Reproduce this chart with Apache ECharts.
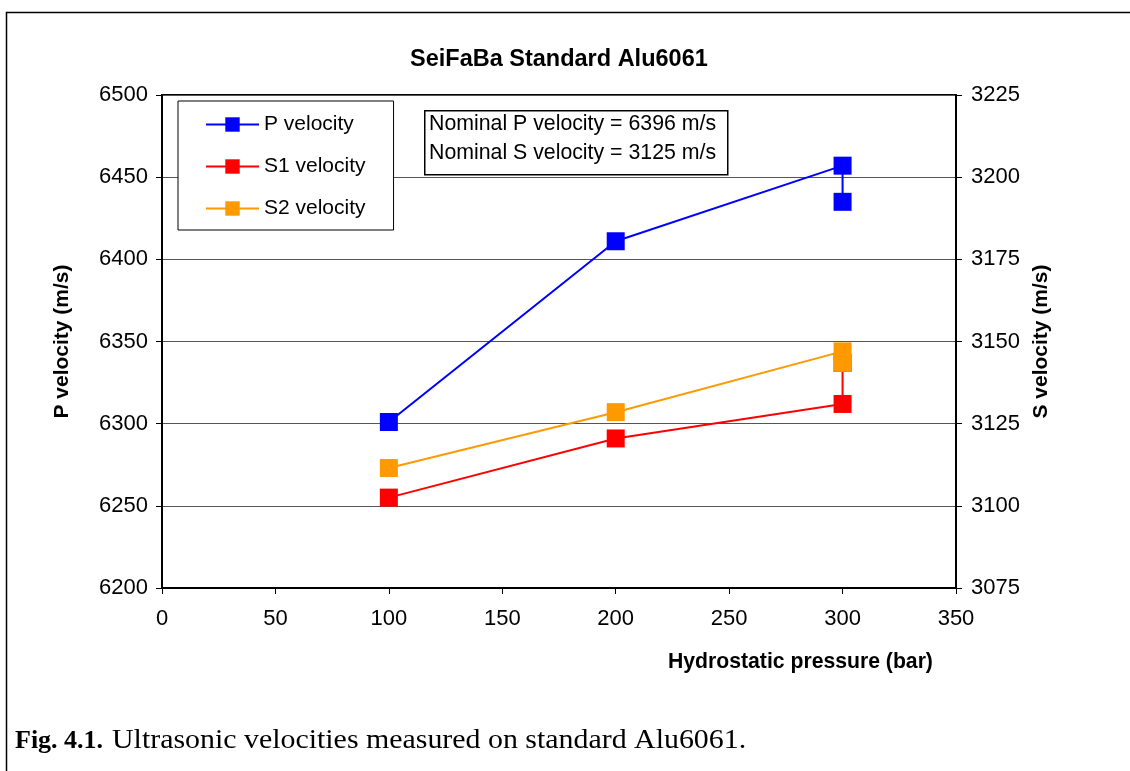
<!DOCTYPE html>
<html>
<head>
<meta charset="utf-8">
<script src="https://cdn.jsdelivr.net/npm/echarts@6/dist/echarts.min.js"></script>
<style>
html,body{margin:0;padding:0;background:#fff;}
#chart{width:1130px;height:771px;}
</style>
</head>
<body>
<div id="chart"></div>
<script>
const titleText = 'SeiFaBa Standard Alu6061';
const xTicks = {min: 0, max: 350, interval: 50};
const pTicks = {min: 6200, max: 6500, interval: 50};
const sTicks = {min: 3075, max: 3225, interval: 25};
const pressures = [100, 200, 300, 300];
const pVelocity = [6301, 6411, 6457, 6435];
const s1Velocity = [3102.5, 3120.5, 3131, 3143.5];
const s2Velocity = [3111.5, 3128.5, 3147, 3143.5];
const seriesNames = ['P velocity', 'S1 velocity', 'S2 velocity'];
const nominalLines = ['Nominal P velocity = 6396 m/s', 'Nominal S velocity = 3125 m/s'];
const captionBold = 'Fig. 4.1.';
const captionText = 'Ultrasonic velocities measured on standard Alu6061.';

const font = 'Liberation Sans, Arial, sans-serif';
const serif = 'Liberation Serif, Times New Roman, serif';
const pair = (ys) => pressures.map((x, i) => [x, ys[i]]);
const plain = (v) => String(v);

const chart = echarts.init(document.getElementById('chart'), null, {renderer: 'canvas'});
chart.setOption({
  animation: false,
  backgroundColor: '#fff',
  title: {
    text: titleText, left: 405, top: 43,
    textStyle: {fontFamily: font, fontSize: 23.5, fontWeight: 'bold', color: '#000'}
  },
  grid: {left: 162, right: 174, top: 95, bottom: 183, show: true, borderColor: '#000', borderWidth: 2, backgroundColor: 'transparent'},
  legend: {
    orient: 'vertical', left: 178, top: 101,
    padding: [13, 28, 11, 27],
    itemGap: 21, itemWidth: 53, itemHeight: 18,
    borderColor: '#000', borderWidth: 1, backgroundColor: '#fff',
    textStyle: {fontFamily: font, fontSize: 21, color: '#000'},
    data: seriesNames
  },
  xAxis: {
    type: 'value', min: xTicks.min, max: xTicks.max, interval: xTicks.interval,
    axisLine: {show: true, lineStyle: {color: '#000', width: 2}},
    axisTick: {show: true, inside: false, length: 6, lineStyle: {color: '#000'}},
    axisLabel: {fontFamily: font, fontSize: 22, color: '#000', margin: 20, formatter: plain},
    splitLine: {show: false}
  },
  yAxis: [
    {
      type: 'value', min: pTicks.min, max: pTicks.max, interval: pTicks.interval,
      name: 'P velocity (m/s)', nameLocation: 'middle', nameGap: 89, nameRotate: 90,
      nameTextStyle: {fontFamily: font, fontSize: 21, fontWeight: 'bold', color: '#000'},
      axisLine: {show: true, lineStyle: {color: '#000', width: 2}},
      axisTick: {show: true, inside: false, length: 6, lineStyle: {color: '#000'}},
      axisLabel: {fontFamily: font, fontSize: 22, color: '#000', margin: 14, formatter: plain},
      splitLine: {show: true, lineStyle: {color: '#555', width: 1}}
    },
    {
      type: 'value', min: sTicks.min, max: sTicks.max, interval: sTicks.interval,
      name: 'S velocity (m/s)', nameLocation: 'middle', nameGap: 75, nameRotate: 90,
      nameTextStyle: {fontFamily: font, fontSize: 21, fontWeight: 'bold', color: '#000'},
      position: 'right',
      axisLine: {show: true, lineStyle: {color: '#000', width: 2}},
      axisTick: {show: true, inside: false, length: 6, lineStyle: {color: '#000'}},
      axisLabel: {fontFamily: font, fontSize: 22, color: '#000', margin: 15, formatter: plain},
      splitLine: {show: false}
    }
  ],
  series: [
    {
      name: seriesNames[0], type: 'line', yAxisIndex: 0, data: pair(pVelocity),
      symbol: 'rect', symbolSize: 18, showAllSymbol: true,
      lineStyle: {color: '#0000ff', width: 2}, itemStyle: {color: '#0000ff'}
    },
    {
      name: seriesNames[1], type: 'line', yAxisIndex: 1, data: pair(s1Velocity),
      symbol: 'rect', symbolSize: 18, showAllSymbol: true,
      lineStyle: {color: '#ff0000', width: 2}, itemStyle: {color: '#ff0000'}
    },
    {
      name: seriesNames[2], type: 'line', yAxisIndex: 1, data: pair(s2Velocity),
      symbol: 'rect', symbolSize: 18, showAllSymbol: true,
      lineStyle: {color: '#ff9900', width: 2}, itemStyle: {color: '#ff9900'}
    }
  ],
  graphic: [
    {type: 'rect', left: 4, top: 10, shape: {width: 1140, height: 780}, style: {fill: 'none', stroke: '#000', lineWidth: 1.5}, silent: true},
    {type: 'rect', left: 424, top: 110, shape: {width: 303, height: 64}, style: {fill: '#fff', stroke: '#000', lineWidth: 1.5}, z: 10},
    {type: 'text', left: 429, top: 110, z: 11, style: {text: nominalLines.join('\n'), font: '21.3px ' + font, fill: '#000', lineHeight: 29}},
    {type: 'text', left: 668, top: 652, style: {text: 'Hydrostatic pressure (bar)', font: 'bold 21.2px ' + font, fill: '#000'}},
    {type: 'text', left: 15, top: 728, style: {text: captionBold, font: 'bold 26px ' + serif, fill: '#000'}},
    {type: 'text', x: 112, y: 727, scaleX: 1.107, style: {text: captionText, font: '27px ' + serif, fill: '#000'}}
  ]
});
</script>
</body>
</html>
